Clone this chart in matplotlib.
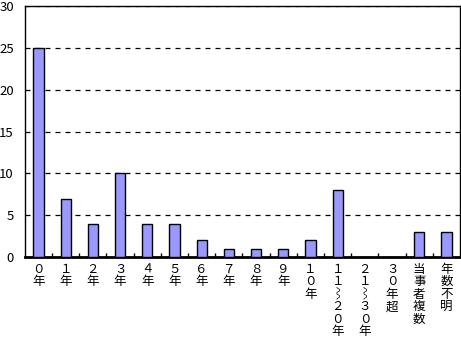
import numpy as np
import matplotlib
matplotlib.use('Agg')
import matplotlib.pyplot as plt

plt.rcParams['font.family'] = ['Noto Sans CJK JP', 'DejaVu Sans']

# categories (vertical text, one char per line)
categories = ['０年', '１年', '２年', '３年', '４年', '５年', '６年', '７年',
              '８年', '９年', '１０年', '１１⌇２０年', '２１⌇３０年', '３０年超',
              '当事者複数', '年数不明']
values = [25, 7, 4, 10, 4, 4, 2, 1, 1, 1, 2, 8, 0, 0, 3, 3]
yticks = [0, 5, 10, 15, 20, 25, 30]

fig = plt.figure(figsize=(4.61, 3.41), dpi=100)
ax = fig.add_axes([0.054, 0.246, 0.944, 0.736])

x = np.arange(len(categories))
ax.bar(x, values, width=0.37, color='#9999ff', edgecolor='black', linewidth=1, zorder=3)

ax.set_xlim(-0.5, len(categories) - 0.5)
ax.set_ylim(0, 30)
ax.set_yticks(yticks)
ax.yaxis.grid(True, linestyle=(0, (4, 4)), color='black', linewidth=0.9)
ax.tick_params(axis='y', length=0, pad=8, labelsize=9.5)

ax.set_xticks(x)
ax.set_xticklabels(['\n'.join(c) for c in categories], fontsize=9, linespacing=0.95, va='top')
ax.set_xticks(np.arange(0.5, len(categories) - 1, 1), minor=True)
ax.tick_params(axis='x', which='major', length=0, pad=4)
ax.tick_params(axis='x', which='minor', direction='in', length=3, width=1)

for s in ax.spines.values():
    s.set_linewidth(1)
ax.spines['bottom'].set_linewidth(2)

fig.savefig('out.png', dpi=100)
